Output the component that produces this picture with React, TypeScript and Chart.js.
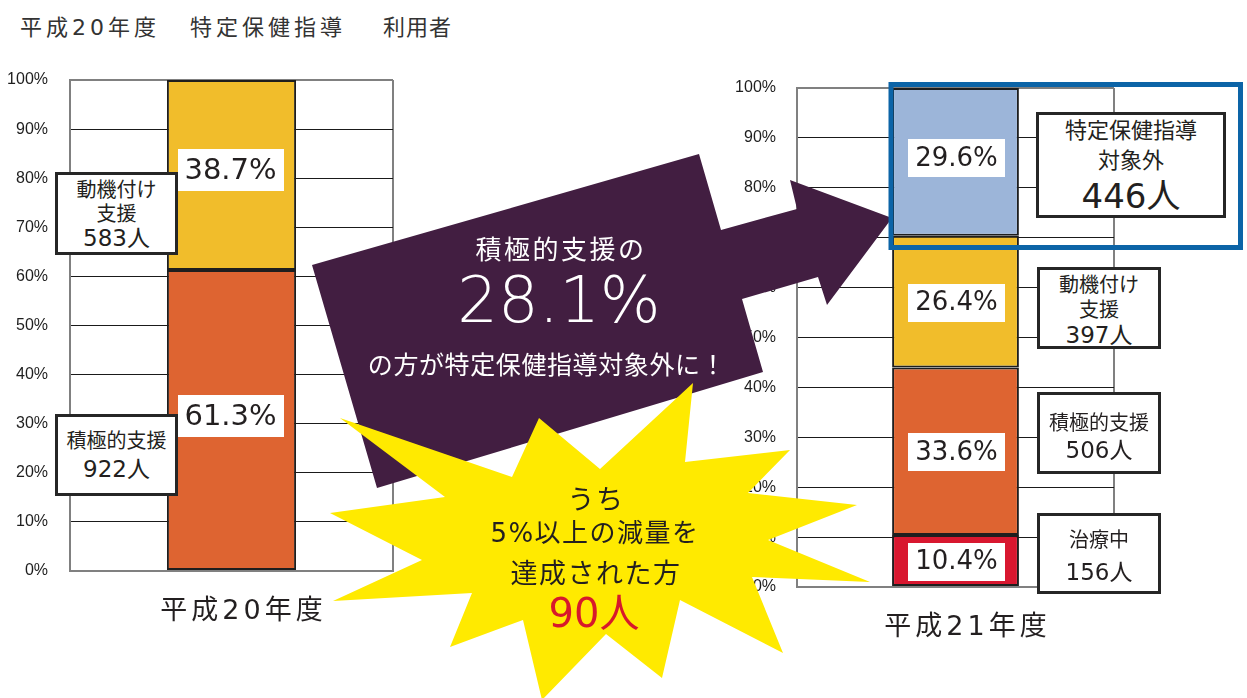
import React, { useEffect, useRef } from "react";
import { Chart, registerables } from "chart.js";

Chart.register(...registerables);

// ---------- data ----------
const yTickLabels = ["0%", "10%", "20%", "30%", "40%", "50%", "60%", "70%", "80%", "90%", "100%"];

const leftCategories = ["平成20年度"];
const leftSeriesNames = ["積極的支援", "動機付け支援"];
const leftValues = [61.3, 38.7];
const leftCounts = [922, 583];

const rightCategories = ["平成21年度"];
const rightSeriesNames = ["治療中", "積極的支援", "動機付け支援", "特定保健指導対象外"];
const rightValues = [10.4, 33.6, 26.4, 29.6];
const rightCounts = [156, 506, 397, 446];

const movedShare = 28.1;
const achievers = 90;

// ---------- styles ----------
const FONT = '"DejaVu Sans", "Noto Sans CJK JP", sans-serif';
const JP = '"Noto Sans CJK JP", "DejaVu Sans", sans-serif';
const INK = "#231f20";
const FRAME = "#808080";
const leftColors = ["#DE6431", "#F1BD2B"];
const rightColors = ["#D8172F", "#DE6431", "#F1BD2B", "#9CB5D9"];

function makeLabelPlugin(cfg: any) {
  return {
    id: "pctLabels",
    afterDatasetsDraw(chart: any) {
      const ctx = chart.ctx;
      chart.data.datasets.forEach((ds: any, i: number) => {
        const meta = chart.getDatasetMeta(i);
        meta.data.forEach((el: any, j: number) => {
          const p = el.getProps(["x", "y", "base"], true);
          const cx = p.x + cfg.dx;
          const cy = (p.y + p.base) / 2 + (cfg.dy[i] || 0);
          ctx.save();
          ctx.fillStyle = "#ffffff";
          ctx.fillRect(Math.round(cx - cfg.w / 2), Math.round(cy - cfg.h / 2), cfg.w, cfg.h);
          ctx.fillStyle = INK;
          ctx.font = `${cfg.size}px ${FONT}`;
          ctx.textAlign = "center";
          ctx.textBaseline = "middle";
          ctx.fillText(`${Number(ds.data[j]).toFixed(1)}%`, cx, cy + 1);
          ctx.restore();
        });
      });
    },
    afterDraw(chart: any) {
      const ctx = chart.ctx;
      const xs = chart.scales.x;
      (chart.data.labels as string[]).forEach((lab: string, k: number) => {
        const px = xs.getPixelForValue(k) + cfg.catDx;
        const py = chart.chartArea.bottom + cfg.catDy;
        ctx.save();
        ctx.font = `${cfg.catSize}px ${FONT}`;
        (ctx as any).letterSpacing = `${cfg.catSpacing}px`;
        ctx.fillStyle = INK;
        ctx.textAlign = "center";
        ctx.textBaseline = "middle";
        ctx.fillText(lab, px + cfg.catSpacing / 2, py);
        ctx.restore();
      });
    },
  };
}

function StackedChart(props: any) {
  const ref = useRef<HTMLCanvasElement | null>(null);
  useEffect(() => {
    if (!ref.current) return;
    const p = props;
    const chart = new Chart(ref.current, {
      type: "bar",
      data: {
        labels: p.categories,
        datasets: p.names.map((n: string, i: number) => ({
          label: n,
          data: [p.values[i]],
          backgroundColor: p.colors[i],
          borderColor: "#1e1e1e",
          borderWidth: 2,
          borderSkipped: false,
          barPercentage: 0.4,
          categoryPercentage: 1.0,
        })),
      },
      options: {
        responsive: false,
        maintainAspectRatio: false,
        animation: false,
        layout: { padding: { top: p.padTop, right: p.padRight, left: 0, bottom: 0 } },
        plugins: {
          legend: { display: false },
          tooltip: { enabled: false },
          title: { display: false },
        },
        scales: {
          x: {
            stacked: true,
            offset: true,
            grid: { color: FRAME, lineWidth: 2, drawTicks: false, offset: true },
            border: { color: FRAME, width: 2 },
            ticks: { display: false },
            afterFit: (s: any) => {
              s.height = p.xAxisHeight;
            },
          },
          y: {
            stacked: true,
            min: 0,
            max: 100,
            ticks: {
              stepSize: 10,
              padding: p.tickPad,
              color: "#1e1e1e",
              font: { family: '"Liberation Sans", Arial, sans-serif', size: 16 },
              callback: (_v: any, i: number) => yTickLabels[i],
            },
            grid: {
              drawTicks: false,
              color: (c: any) => (c.tick && (c.tick.value === 0 || c.tick.value === 100) ? FRAME : "#1a1a1a"),
              lineWidth: (c: any) => (c.tick && (c.tick.value === 0 || c.tick.value === 100) ? 2 : 1),
            },
            border: { color: FRAME, width: 2 },
            afterFit: (s: any) => {
              s.width = p.yAxisWidth;
            },
          },
        },
      },
      plugins: [makeLabelPlugin(p.label)],
    } as any);
    return () => chart.destroy();
  }, []);
  return (
    <canvas
      ref={ref}
      width={props.width}
      height={props.height}
      style={{ position: "absolute", left: props.left, top: props.top, width: props.width, height: props.height, display: "block" }}
    />
  );
}

type Line = { t: string; size: number; h: number };

function Box({ x, y, w, h, pt = 0, lines }: { x: number; y: number; w: number; h: number; pt?: number; lines: Line[] }) {
  return (
    <div
      style={{
        position: "absolute",
        left: x,
        top: y,
        width: w,
        height: h,
        boxSizing: "border-box",
        border: "3px solid #262626",
        background: "#fff",
        display: "flex",
        flexDirection: "column",
        justifyContent: "center",
        alignItems: "center",
        paddingTop: pt,
        fontFamily: FONT,
        color: INK,
      }}
    >
      {lines.map((l, i) => (
        <div key={i} style={{ fontSize: l.size, lineHeight: `${l.h}px`, height: l.h, whiteSpace: "nowrap" }}>
          {l.t}
        </div>
      ))}
    </div>
  );
}

const arrowPts = [
  [312, 265], [699, 154], [721, 230], [797, 209], [790, 180], [892, 218],
  [827, 305], [818, 277], [742, 299], [763, 372], [377, 488],
];
const starPts = [
  [340, 418], [512, 477], [539, 418], [600, 469], [693, 383], [685, 462],
  [790, 450], [748, 493], [857, 505], [768, 540], [870, 582], [752, 577],
  [783, 653], [680, 600], [662, 678], [606, 634], [542, 700], [523, 620],
  [450, 647], [472, 593], [333, 601], [422, 560], [330, 513], [445, 497],
];
const pts = (a: number[][]) => a.map((q) => q.join(",")).join(" ");

export default function App() {
  return (
    <div style={{ position: "fixed", left: 0, top: 0, width: 1247, height: 698, background: "#fff", overflow: "hidden" }}>
      {/* title */}
      <div style={{ position: "absolute", top: 9, left: 20, fontFamily: FONT, fontSize: 22, color: "#333", whiteSpace: "nowrap", letterSpacing: 4 }}>平成20年度</div>
      <div style={{ position: "absolute", top: 9, left: 190, fontFamily: JP, fontSize: 22, color: "#333", whiteSpace: "nowrap", letterSpacing: 4 }}>特定保健指導</div>
      <div style={{ position: "absolute", top: 9, left: 383, fontFamily: JP, fontSize: 22, color: "#333", whiteSpace: "nowrap", letterSpacing: 1 }}>利用者</div>

      <StackedChart
        left={0}
        top={0}
        width={400}
        height={660}
        categories={leftCategories}
        names={leftSeriesNames}
        values={leftValues}
        colors={leftColors}
        padTop={80}
        padRight={7}
        yAxisWidth={70}
        xAxisHeight={89}
        tickPad={22}
        label={{ w: 106, h: 42, size: 29, dx: -1, dy: [-4, -5], catDx: 10, catDy: 41, catSize: 27, catSpacing: 4 }}
      />
      <StackedChart
        left={730}
        top={0}
        width={517}
        height={698}
        categories={rightCategories}
        names={rightSeriesNames}
        values={rightValues}
        colors={rightColors}
        padTop={88}
        padRight={133}
        yAxisWidth={67}
        xAxisHeight={111}
        tickPad={21}
        label={{ w: 97, h: 38, size: 26, dx: 1, dy: [1, 1, 1, -4], catDx: 10, catDy: 41, catSize: 27, catSpacing: 4 }}
      />

      {/* left count boxes */}
      <Box x={55} y={172} w={123} h={83} lines={[
        { t: "動機付け", size: 20, h: 24 },
        { t: "支援", size: 20, h: 24 },
        { t: `${leftCounts[1]}人`, size: 23, h: 24 },
      ]} />
      <Box x={55} y={414} w={123} h={82} lines={[
        { t: leftSeriesNames[0], size: 20, h: 28 },
        { t: `${leftCounts[0]}人`, size: 23, h: 28 },
      ]} />

      {/* right count boxes */}
      <Box x={1036} y={112} w={190} h={106} pt={2} lines={[
        { t: "特定保健指導", size: 22, h: 30 },
        { t: "対象外", size: 22, h: 30 },
        { t: `${rightCounts[3]}人`, size: 34, h: 40 },
      ]} />
      <Box x={1037} y={267} w={124} h={82} pt={4} lines={[
        { t: "動機付け", size: 20, h: 25 },
        { t: "支援", size: 20, h: 25 },
        { t: `${rightCounts[2]}人`, size: 23, h: 25 },
      ]} />
      <Box x={1037} y={392} w={124} h={82} pt={7} lines={[
        { t: rightSeriesNames[1], size: 20, h: 27 },
        { t: `${rightCounts[1]}人`, size: 23, h: 27 },
      ]} />
      <Box x={1037} y={513} w={124} h={81} pt={5} lines={[
        { t: rightSeriesNames[0], size: 20, h: 32 },
        { t: `${rightCounts[0]}人`, size: 23, h: 32 },
      ]} />

      <svg width={1247} height={698} style={{ position: "absolute", left: 0, top: 0, pointerEvents: "none" }}>
        <polygon points={pts(arrowPts)} fill="#421E41" />
        <g fill="#ffffff" textAnchor="middle" dominantBaseline="central">
          <text x={561} y={247} fontSize={26} fontFamily={JP} letterSpacing={2.5}>積極的支援の</text>
          <text x={559} y={300} fontSize={64} fontFamily={FONT} fontWeight={200}>{`${movedShare}%`}</text>
          <text x={547} y={363} fontSize={25} fontFamily={JP} letterSpacing={0.6}>の方が特定保健指導対象外に！</text>
        </g>
        <polygon points={pts(starPts)} fill="#FFEA00" />
        <g textAnchor="middle" dominantBaseline="central" fill={INK}>
          <text x={596} y={497} fontSize={27} fontFamily={JP} letterSpacing={1.5}>うち</text>
          <text x={595} y={533} fontSize={26} fontFamily={FONT} letterSpacing={1.5}>5%以上の減量を</text>
          <text x={596} y={571} fontSize={27} fontFamily={JP} letterSpacing={1.5}>達成された方</text>
          <text x={594} y={613} fontSize={40} fontFamily={FONT} fill="#D7192B">{`${achievers}人`}</text>
        </g>
        <rect x={891} y={84.5} width={349.5} height={163} fill="none" stroke="#0C64A7" strokeWidth={5} />
      </svg>
    </div>
  );
}
